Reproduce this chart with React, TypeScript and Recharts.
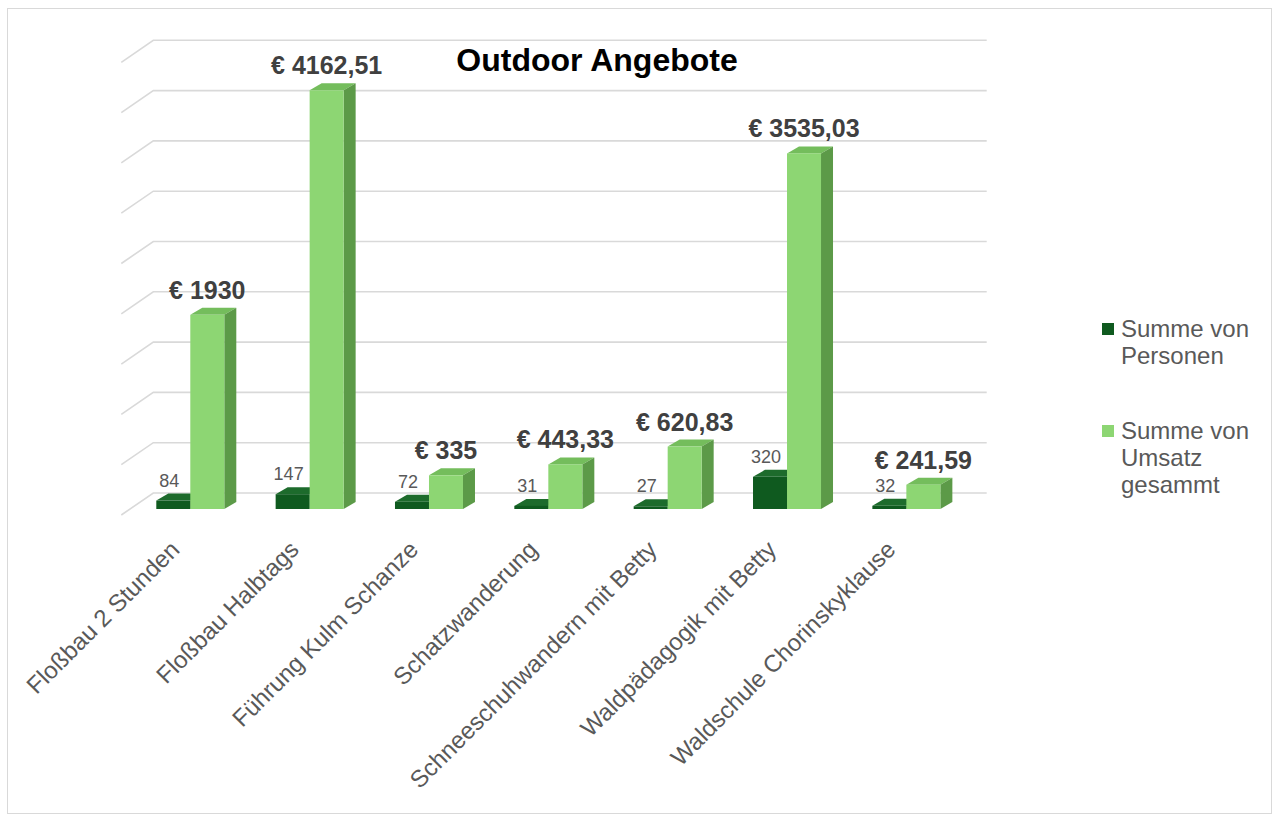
import { BarChart, Bar, XAxis, YAxis, CartesianGrid, LabelList } from "recharts";

const categories = [
  "Floßbau 2 Stunden",
  "Floßbau Halbtags",
  "Führung Kulm Schanze",
  "Schatzwanderung",
  "Schneeschuhwandern mit Betty",
  "Waldpädagogik mit Betty",
  "Waldschule Chorinskyklause",
];
const personen = [84, 147, 72, 31, 27, 320, 32];
const umsatz = [1930, 4162.51, 335, 443.33, 620.83, 3535.03, 241.59];
const yTicks = [0, 500, 1000, 1500, 2000, 2500, 3000, 3500, 4000, 4500];

const seriesNames = ["Summe von Personen", "Summe von Umsatz gesammt"];

const data = categories.map((name, i) => ({
  name,
  personen: personen[i],
  umsatz: umsatz[i],
}));

const FONT = "'Liberation Sans', Arial, sans-serif";

// depth of the extruded bar boxes
const DX = 12;
const DY = 7;

const DARK = { front: "#0f5a1f", top: "#1d6b2c", side: "#0b4416" };
const LIGHT = { front: "#8dd673", top: "#74bd5c", side: "#5c9a48" };

function Box3D(props: any) {
  const { x, y, width, height, colors } = props;
  if (width == null || height == null) return null;
  const r = x + width;
  const b = y + height;
  return (
    <g>
      <path
        d={`M${x},${y} L${x + DX},${y - DY} L${r + DX},${y - DY} L${r},${y} Z`}
        fill={colors.top}
      />
      <path
        d={`M${r},${y} L${r + DX},${y - DY} L${r + DX},${b - DY} L${r},${b} Z`}
        fill={colors.side}
      />
      <rect x={x} y={y} width={width} height={height} fill={colors.front} />
    </g>
  );
}

// back-wall gridline with the slanted side-wall segment on the left
function WallLine(props: any) {
  const { x1, x2, y1, index } = props;
  const back = y1 - 16;
  return (
    <path
      key={`wall-${index}`}
      d={`M${x1 - 9},${y1 + 6} L${x1 + 23},${back} L${x2 + 21},${back}`}
      fill="none"
      stroke="#d9d9d9"
      strokeWidth={1.6}
    />
  );
}

function CategoryTick(props: any) {
  const { x, y, payload } = props;
  return (
    <g transform={`translate(${x - 9},${y + 42})`}>
      <text
        textAnchor="end"
        transform="rotate(-45)"
        fontFamily={FONT}
        fontSize={24}
        fill="#595959"
      >
        {payload.value}
      </text>
    </g>
  );
}

const euro = (v: number) => "€ " + v.toFixed(2).replace(/\.00$/, "").replace(".", ",");

function UmsatzLabel(props: any) {
  const { x, y, width, value } = props;
  return (
    <text
      x={x + width / 2}
      y={y - 16}
      textAnchor="middle"
      fontFamily={FONT}
      fontSize={25}
      fontWeight="bold"
      fill="#404040"
    >
      {euro(value)}
    </text>
  );
}

function PersonenLabel(props: any) {
  const { x, y, width, value } = props;
  return (
    <text
      x={x + width / 2 - 4}
      y={y - 14}
      textAnchor="middle"
      fontFamily={FONT}
      fontSize={18}
      fill="#595959"
    >
      {value}
    </text>
  );
}

export default function App() {
  return (
    <div
      style={{
        position: "absolute",
        left: 7,
        top: 8,
        width: 1265,
        height: 806,
        border: "1px solid #d9d9d9",
        boxSizing: "border-box",
        background: "#fff",
        fontFamily: FONT,
      }}
    >
      <div
        style={{
          position: "absolute",
          left: 289,
          top: 33,
          width: 600,
          textAlign: "center",
          fontSize: 32,
          lineHeight: "36px",
          fontWeight: "bold",
          color: "#000",
        }}
      >
        Outdoor Angebote
      </div>

      <BarChart
        width={1263}
        height={804}
        data={data}
        barSize={34}
        barGap={0}
        margin={{ top: 47.3, right: 305.3, left: 122.3, bottom: 0 }}
      >
        <CartesianGrid vertical={false} horizontal={WallLine} />
        <XAxis
          dataKey="name"
          interval={0}
          axisLine={false}
          tickLine={false}
          tickSize={0}
          tickMargin={0}
          height={304}
          tick={CategoryTick}
        />
        <YAxis hide domain={[0, 4500]} ticks={yTicks} />
        <Bar
          dataKey="personen"
          name={seriesNames[0]}
          isAnimationActive={false}
          shape={(p: any) => <Box3D {...p} colors={DARK} />}
        >
          <LabelList dataKey="personen" content={PersonenLabel} />
        </Bar>
        <Bar
          dataKey="umsatz"
          name={seriesNames[1]}
          isAnimationActive={false}
          shape={(p: any) => <Box3D {...p} colors={LIGHT} />}
        >
          <LabelList dataKey="umsatz" content={UmsatzLabel} />
        </Bar>
      </BarChart>

      <div style={{ position: "absolute", left: 1094, top: 306, color: "#595959", fontSize: 24, lineHeight: "27px" }}>
        {seriesNames.map((n, i) => (
          <div key={n} style={{ display: "flex", alignItems: "flex-start", marginBottom: 48 }}>
            <span
              style={{
                width: 12,
                height: 12,
                marginTop: 8,
                marginRight: 7,
                flex: "none",
                background: i === 0 ? DARK.front : LIGHT.front,
              }}
            />
            <span style={{ width: 140 }}>{n}</span>
          </div>
        ))}
      </div>
    </div>
  );
}
